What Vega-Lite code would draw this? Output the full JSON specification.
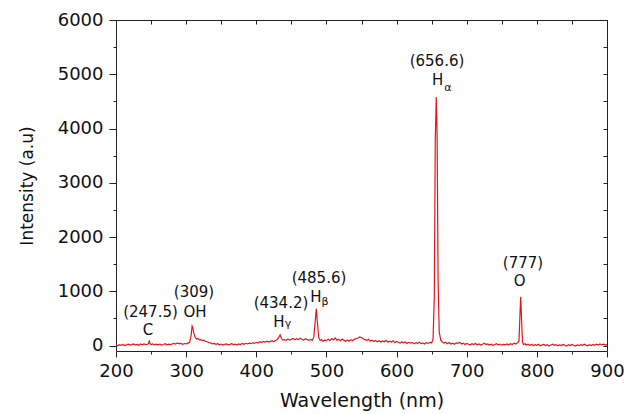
{
"$schema": "https://vega.github.io/schema/vega-lite/v6.json",
"width": 491, "height": 331,
"autosize": {"type": "none"},
"padding": {"left": 116, "top": 20, "right": 18, "bottom": 63},
"background": "white",
"config": {
  "view": {"stroke": null},
  "axis": {"domainColor": "#222", "domainWidth": 1, "tickColor": "#222", "tickWidth": 1, "grid": false,
    "labelFont": "DejaVu Sans", "labelFontSize": 18, "labelColor": "#111",
    "titleFont": "DejaVu Sans", "titleFontWeight": "normal", "titleColor": "#111", "labelOverlap": false, "labelFlush": false}
},
"datasets": {
  "spec": [
{"w":200,"i":10},{"w":202.5,"i":-5},{"w":205,"i":15},{"w":207.5,"i":5},{"w":210,"i":20},{"w":212.5,"i":0},{"w":215,"i":12},{"w":217.5,"i":25},{"w":220,"i":8},{"w":222.5,"i":18},{"w":225,"i":30},{"w":227.5,"i":12},{"w":230,"i":22},{"w":232.5,"i":5},{"w":235,"i":28},{"w":237.5,"i":15},{"w":240,"i":30},{"w":242.5,"i":18},{"w":245,"i":25},{"w":246.5,"i":40},{"w":247.5,"i":95},{"w":248.5,"i":35},{"w":250,"i":20},{"w":252.5,"i":30},{"w":255,"i":12},{"w":257.5,"i":25},{"w":260,"i":15},{"w":262.5,"i":28},{"w":265,"i":10},{"w":267.5,"i":20},{"w":270,"i":35},{"w":272.5,"i":15},{"w":275,"i":25},{"w":277.5,"i":18},{"w":280,"i":30},{"w":282.5,"i":40},{"w":285,"i":28},{"w":287.5,"i":50},{"w":290,"i":35},{"w":292.5,"i":42},{"w":295,"i":25},{"w":297.5,"i":38},{"w":300,"i":30},{"w":302.5,"i":45},{"w":305,"i":60},{"w":307,"i":180},{"w":308.5,"i":360},{"w":309.5,"i":330},{"w":311,"i":220},{"w":313,"i":150},{"w":315,"i":120},{"w":317,"i":130},{"w":319,"i":105},{"w":321,"i":110},{"w":323,"i":95},{"w":325,"i":100},{"w":327.5,"i":80},{"w":330,"i":70},{"w":332.5,"i":55},{"w":335,"i":50},{"w":337.5,"i":30},{"w":340,"i":40},{"w":342.5,"i":22},{"w":345,"i":35},{"w":347.5,"i":15},{"w":350,"i":28},{"w":352.5,"i":10},{"w":355,"i":25},{"w":357.5,"i":30},{"w":360,"i":12},{"w":362.5,"i":22},{"w":365,"i":35},{"w":367.5,"i":18},{"w":370,"i":28},{"w":372.5,"i":10},{"w":375,"i":30},{"w":377.5,"i":20},{"w":380,"i":38},{"w":382.5,"i":25},{"w":385,"i":42},{"w":387.5,"i":30},{"w":390,"i":45},{"w":392.5,"i":35},{"w":395,"i":55},{"w":397.5,"i":40},{"w":400,"i":60},{"w":402.5,"i":45},{"w":405,"i":70},{"w":407.5,"i":55},{"w":410,"i":75},{"w":412.5,"i":60},{"w":415,"i":82},{"w":417.5,"i":65},{"w":420,"i":78},{"w":422.5,"i":90},{"w":425,"i":70},{"w":427.5,"i":95},{"w":430,"i":110},{"w":432,"i":150},{"w":434,"i":195},{"w":436,"i":130},{"w":438,"i":100},{"w":440,"i":110},{"w":442.5,"i":95},{"w":445,"i":120},{"w":447.5,"i":100},{"w":450,"i":115},{"w":452.5,"i":130},{"w":455,"i":105},{"w":457.5,"i":125},{"w":460,"i":110},{"w":462.5,"i":135},{"w":465,"i":115},{"w":467.5,"i":100},{"w":470,"i":125},{"w":472.5,"i":110},{"w":475,"i":95},{"w":477.5,"i":115},{"w":480,"i":100},{"w":482,"i":160},{"w":484,"i":450},{"w":485.6,"i":680},{"w":487,"i":450},{"w":489,"i":150},{"w":491,"i":95},{"w":493,"i":110},{"w":495,"i":80},{"w":497.5,"i":100},{"w":500,"i":90},{"w":502.5,"i":115},{"w":505,"i":95},{"w":507.5,"i":130},{"w":510,"i":105},{"w":512.5,"i":140},{"w":515,"i":100},{"w":517.5,"i":115},{"w":520,"i":90},{"w":522.5,"i":120},{"w":525,"i":95},{"w":527.5,"i":80},{"w":530,"i":105},{"w":532.5,"i":85},{"w":535,"i":110},{"w":537.5,"i":90},{"w":540,"i":115},{"w":542.5,"i":130},{"w":545,"i":140},{"w":547.5,"i":160},{"w":550,"i":150},{"w":552.5,"i":125},{"w":555,"i":110},{"w":557.5,"i":95},{"w":560,"i":115},{"w":562.5,"i":85},{"w":565,"i":100},{"w":567.5,"i":75},{"w":570,"i":95},{"w":572.5,"i":70},{"w":575,"i":90},{"w":577.5,"i":65},{"w":580,"i":85},{"w":582.5,"i":70},{"w":585,"i":95},{"w":587.5,"i":60},{"w":590,"i":80},{"w":592.5,"i":65},{"w":595,"i":90},{"w":597.5,"i":55},{"w":600,"i":75},{"w":602.5,"i":60},{"w":605,"i":45},{"w":607.5,"i":70},{"w":610,"i":50},{"w":612.5,"i":65},{"w":615,"i":40},{"w":617.5,"i":60},{"w":620,"i":45},{"w":622.5,"i":55},{"w":625,"i":35},{"w":627.5,"i":55},{"w":630,"i":40},{"w":632.5,"i":60},{"w":635,"i":35},{"w":637.5,"i":50},{"w":640,"i":30},{"w":642.5,"i":55},{"w":645,"i":40},{"w":647.5,"i":60},{"w":650,"i":50},{"w":652,"i":120},{"w":653.8,"i":900},{"w":655.2,"i":3800},{"w":656.6,"i":4580},{"w":657.8,"i":3900},{"w":659.2,"i":1200},{"w":660.8,"i":250},{"w":663,"i":100},{"w":665,"i":70},{"w":667.5,"i":45},{"w":670,"i":60},{"w":672.5,"i":35},{"w":675,"i":55},{"w":677.5,"i":30},{"w":680,"i":45},{"w":682.5,"i":25},{"w":685,"i":50},{"w":687.5,"i":40},{"w":690,"i":60},{"w":692.5,"i":30},{"w":695,"i":45},{"w":697.5,"i":20},{"w":700,"i":40},{"w":702.5,"i":25},{"w":705,"i":15},{"w":707.5,"i":35},{"w":710,"i":20},{"w":712.5,"i":40},{"w":715,"i":15},{"w":717.5,"i":30},{"w":720,"i":10},{"w":722.5,"i":25},{"w":725,"i":45},{"w":727.5,"i":20},{"w":730,"i":30},{"w":732.5,"i":10},{"w":735,"i":25},{"w":737.5,"i":5},{"w":740,"i":20},{"w":742.5,"i":35},{"w":745,"i":15},{"w":747.5,"i":28},{"w":750,"i":8},{"w":752.5,"i":22},{"w":755,"i":12},{"w":757.5,"i":30},{"w":760,"i":15},{"w":762.5,"i":35},{"w":765,"i":20},{"w":767.5,"i":45},{"w":770,"i":30},{"w":772.5,"i":50},{"w":774.5,"i":80},{"w":776,"i":600},{"w":777,"i":900},{"w":778,"i":550},{"w":779.5,"i":60},{"w":781,"i":20},{"w":783,"i":35},{"w":785,"i":10},{"w":787.5,"i":25},{"w":790,"i":5},{"w":792.5,"i":20},{"w":795,"i":0},{"w":797.5,"i":15},{"w":800,"i":5},{"w":802.5,"i":25},{"w":805,"i":-5},{"w":807.5,"i":12},{"w":810,"i":20},{"w":812.5,"i":0},{"w":815,"i":15},{"w":817.5,"i":-10},{"w":820,"i":10},{"w":822.5,"i":25},{"w":825,"i":5},{"w":827.5,"i":18},{"w":830,"i":-5},{"w":832.5,"i":12},{"w":835,"i":0},{"w":837.5,"i":20},{"w":840,"i":5},{"w":842.5,"i":-10},{"w":845,"i":15},{"w":847.5,"i":0},{"w":850,"i":22},{"w":852.5,"i":5},{"w":855,"i":-8},{"w":857.5,"i":12},{"w":860,"i":0},{"w":862.5,"i":18},{"w":865,"i":5},{"w":867.5,"i":25},{"w":870,"i":8},{"w":872.5,"i":-5},{"w":875,"i":15},{"w":877.5,"i":0},{"w":880,"i":20},{"w":882.5,"i":5},{"w":885,"i":25},{"w":887.5,"i":10},{"w":890,"i":30},{"w":892.5,"i":12},{"w":895,"i":25},{"w":897.5,"i":8},{"w":900,"i":20}
  ],
  "labels": [
    {"t":"(247.5)","w":249.2,"i":614},
    {"t":"C","w":245.6,"i":288},
    {"t":"(309)","w":311.2,"i":993},
    {"t":"OH","w":312.6,"i":614},
    {"t":"(434.2)","w":435.2,"i":791},
    {"t":"H","w":432.4,"i":440},
    {"t":"(485.6)","w":489.4,"i":1240},
    {"t":"H","w":485.1,"i":901},
    {"t":"(656.6)","w":657.6,"i":5240},
    {"t":"H","w":658.4,"i":4900},
    {"t":"(777)","w":780.2,"i":1522},
    {"t":"O","w":775.3,"i":1196}
  ],
  "subs": [
    {"t":"γ","w":445.2,"i":400},
    {"t":"β","w":498,"i":809},
    {"t":"α","w":673.3,"i":4740}
  ]
},
"layer": [
  {
    "data": {"name": "spec"},
    "mark": {"type": "line", "color": "#e3141c", "strokeWidth": 1.2, "clip": true},
    "encoding": {
      "x": {"field": "w", "type": "quantitative", "scale": {"domain": [200, 900], "nice": false, "zero": false},
        "axis": {"orient": "bottom", "values": [200,250,300,350,400,450,500,550,600,650,700,750,800,850,900],
          "format": "d",
          "labelExpr": "datum.value % 100 === 0 ? datum.label : ''",
          "tickSize": {"condition": {"test": "datum.value % 100 === 0", "value": 6}, "value": 3},
          "labelPadding": 5, "title": "Wavelength (nm)", "titleFontSize": 19, "titlePadding": 11}},
      "y": {"field": "i", "type": "quantitative", "scale": {"domain": [-100, 6000], "nice": false, "zero": false},
        "axis": {"orient": "left", "values": [0,500,1000,1500,2000,2500,3000,3500,4000,4500,5000,5500,6000],
          "format": "d",
          "labelExpr": "datum.value % 1000 === 0 ? datum.label : ''",
          "tickSize": {"condition": {"test": "datum.value % 1000 === 0", "value": 7}, "value": 3},
          "labelPadding": 6, "title": "Intensity (a.u)", "titleFontSize": 17, "titlePadding": 21}}
    }
  },
  {
    "data": {"name": "spec"},
    "mark": {"type": "line", "opacity": 0},
    "encoding": {
      "x": {"field": "w", "type": "quantitative",
        "axis": {"orient": "top", "values": [200,250,300,350,400,450,500,550,600,650,700,750,800,850,900], "labels": false, "tickSize": -4, "title": null}},
      "y": {"field": "i", "type": "quantitative",
        "axis": {"orient": "right", "values": [0,500,1000,1500,2000,2500,3000,3500,4000,4500,5000,5500,6000], "labels": false, "tickSize": -4, "title": null}}
    }
  },
  {
    "data": {"name": "labels"},
    "mark": {"type": "text", "font": "DejaVu Sans", "fontSize": 15, "color": "#111", "align": "center", "baseline": "middle"},
    "encoding": {
      "x": {"field": "w", "type": "quantitative", "axis": null},
      "y": {"field": "i", "type": "quantitative", "axis": null},
      "text": {"field": "t"}
    }
  },
  {
    "data": {"name": "subs"},
    "mark": {"type": "text", "font": "DejaVu Sans", "fontSize": 11, "color": "#111", "align": "center", "baseline": "middle"},
    "encoding": {
      "x": {"field": "w", "type": "quantitative", "axis": null},
      "y": {"field": "i", "type": "quantitative", "axis": null},
      "text": {"field": "t"}
    }
  }
],
"resolve": {"axis": {"x": "independent", "y": "independent"}}
}
